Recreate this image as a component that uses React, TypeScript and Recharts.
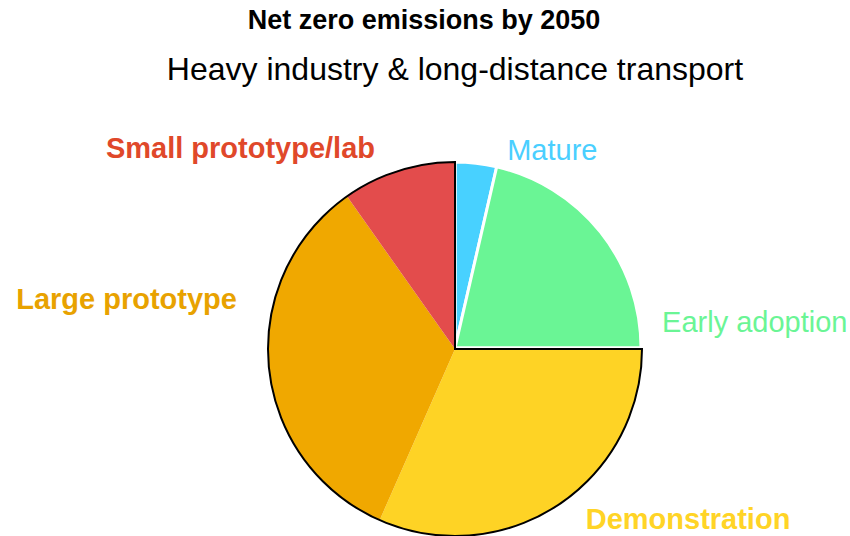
import React from "react";
import { PieChart, Pie, Cell } from "recharts";

// Technology readiness shares (percent of emissions reductions)
const stages = ["Mature", "Early adoption", "Demonstration", "Large prototype", "Small prototype/lab"];
const shares = [3.6, 21.4, 31.6, 33.6, 9.8];
const sliceColors = ["#48D1FF", "#6AF595", "#FED325", "#F0A800", "#E34C4C"];
const labelColors = ["#4ACFFF", "#6AF595", "#FFD426", "#E8A200", "#E0482A"];
const boldLabels = [false, false, true, true, true];
// stages that are still pre-commercial, outlined together
const preCommercial = [false, false, true, true, true];

const titleText = "Net zero emissions by 2050";
const subtitleText = "Heavy industry & long-distance transport";

const W = 850;
const H = 536;
const CX = 455;
const CY = 348;
const RAD = Math.PI / 180;

// label placement relative to the outer-arc point at each slice's mid angle
const labelNudge: Record<string, { dx: number; dy: number; anchor: "start" | "end" }> = {
  "Mature": { dx: 31, dy: -1, anchor: "start" },
  "Early adoption": { dx: 60, dy: 101, anchor: "start" },
  "Demonstration": { dx: 28, dy: 24, anchor: "start" },
  "Large prototype": { dx: -31, dy: -58, anchor: "end" },
  "Small prototype/lab": { dx: -23, dy: -11, anchor: "end" },
};

const rows = stages.map((name, i) => ({
  name,
  value: shares[i],
  fill: sliceColors[i],
  labelColor: labelColors[i],
  bold: boldLabels[i],
  group: preCommercial[i],
}));

const outlineRows = [
  { name: "commercial", value: shares.filter((_, i) => !preCommercial[i]).reduce((a, b) => a + b, 0) },
  { name: "pre-commercial", value: shares.filter((_, i) => preCommercial[i]).reduce((a, b) => a + b, 0) },
];

const FONT = "'Liberation Sans', Arial, Helvetica, sans-serif";

const renderLabel = (props: any) => {
  const { cx, cy, midAngle, index } = props;
  const row = rows[index];
  const r = 188;
  const ax = cx + r * Math.cos(-midAngle * RAD);
  const ay = cy + r * Math.sin(-midAngle * RAD);
  const n = labelNudge[row.name];
  return (
    <text
      x={ax + n.dx}
      y={ay + n.dy}
      textAnchor={n.anchor}
      fill={row.labelColor}
      fontFamily={FONT}
      fontSize={29}
      fontWeight={row.bold ? 700 : 400}
    >
      {row.name}
    </text>
  );
};

export default function App() {
  return (
    <div style={{ position: "absolute", left: 0, top: 0, width: W, height: H, background: "#fff" }}>
      <PieChart width={W} height={H} margin={{ top: 0, right: 0, bottom: 0, left: 0 }}>
        <Pie
          data={rows}
          dataKey="value"
          nameKey="name"
          cx={CX}
          cy={CY}
          outerRadius={186}
          startAngle={90}
          endAngle={-270}
          stroke="#ffffff"
          strokeWidth={3}
          label={renderLabel}
          labelLine={false}
          isAnimationActive={false}
        >
          {rows.map((r) => (
            <Cell key={r.name} fill={r.fill} />
          ))}
        </Pie>
        <Pie
          data={rows}
          dataKey="value"
          nameKey="name"
          cx={CX}
          cy={CY + 1}
          outerRadius={187}
          startAngle={90}
          endAngle={-270}
          isAnimationActive={false}
        >
          {rows.map((r) => (
            <Cell key={r.name} fill={r.group ? r.fill : "none"} stroke="none" />
          ))}
        </Pie>
        <Pie
          data={outlineRows}
          dataKey="value"
          nameKey="name"
          cx={CX}
          cy={CY + 1}
          outerRadius={187}
          startAngle={90}
          endAngle={-270}
          isAnimationActive={false}
        >
          {outlineRows.map((r, i) => (
            <Cell key={r.name} fill="none" stroke={i === 1 ? "#000" : "none"} strokeWidth={2} />
          ))}
        </Pie>
      </PieChart>
      <svg width={W} height={110} style={{ position: "absolute", left: 0, top: 0, pointerEvents: "none" }}>
        <text x={424} y={29} textAnchor="middle" fontFamily={FONT} fontSize={27} fontWeight={700} fill="#000">
          {titleText}
        </text>
        <text x={455} y={80} textAnchor="middle" fontFamily={FONT} fontSize={32} fill="#000">
          {subtitleText}
        </text>
      </svg>
    </div>
  );
}
